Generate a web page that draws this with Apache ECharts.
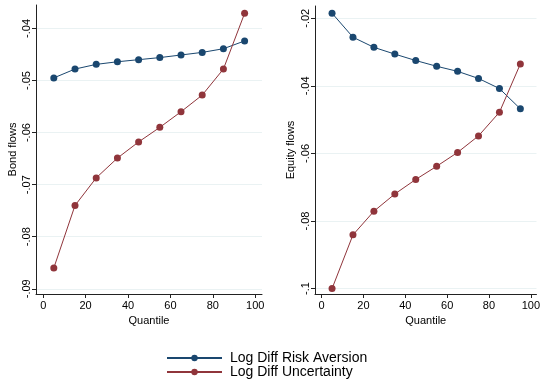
<!DOCTYPE html>
<html lang="en">
<head>
    <meta charset="UTF-8">
    <title>quantile-flows</title>
    <script src="https://cdn.jsdelivr.net/npm/echarts@6.0.0/dist/echarts.min.js"></script>
</head>
<body style="margin:0;background:#fff;">
<div id="main" style="width: 543px;height:385px;"></div>
<script>
    // quantiles on the x axis
    var quantiles = [5, 15, 25, 35, 45, 55, 65, 75, 85, 95];
    // bond flows panel
    var bondRisk = [-0.0495, -0.0478, -0.0469, -0.0464, -0.0460, -0.0456, -0.0451, -0.0446, -0.0439, -0.0424];
    var bondUnc = [-0.0860, -0.0740, -0.0687, -0.0649, -0.0618, -0.0590, -0.0560, -0.0528, -0.0478, -0.0371];
    // equity flows panel
    var eqRisk = [-0.0185, -0.0256, -0.0286, -0.0306, -0.0325, -0.0342, -0.0357, -0.0378, -0.0408, -0.0468];
    var eqUnc = [-0.1000, -0.0841, -0.0771, -0.0720, -0.0677, -0.0638, -0.0597, -0.0548, -0.0478, -0.0335];
    // tick labels
    var xTicks = [0, 20, 40, 60, 80, 100];
    var bondTicks = [-0.09, -0.08, -0.07, -0.06, -0.05, -0.04];
    var eqTicks = [-0.1, -0.08, -0.06, -0.04, -0.02];
    var names = ['Log Diff Risk Aversion', 'Log Diff Uncertainty'];

    var blue = '#1a476f';
    var red = '#90353b';
    var font = 'Liberation Sans, Arial, sans-serif';

    function pair(ys) {
        var out = [];
        for (var i = 0; i < quantiles.length; i++) out.push([quantiles[i], ys[i]]);
        return out;
    }
    function fmt(v) {
        return String(+(+v).toFixed(2)).replace('0.', '.');
    }
    function xAxis(idx, min, max) {
        return {
            type: 'value', gridIndex: idx, min: min, max: max,
            name: 'Quantile', nameLocation: 'middle', nameGap: 19,
            nameTextStyle: {color: '#000', fontSize: 11, fontFamily: font},
            axisLine: {show: true, onZero: false, lineStyle: {color: '#222', width: 1}},
            axisTick: {show: true, length: 4, customValues: xTicks, lineStyle: {color: '#222'}},
            axisLabel: {customValues: xTicks, color: '#000', fontSize: 11, fontFamily: font, margin: 6},
            splitLine: {show: false}
        };
    }
    function yAxis(idx, min, max, ticks, name, gap) {
        return {
            type: 'value', gridIndex: idx, min: min, max: max,
            name: name, nameLocation: 'middle', nameGap: gap,
            nameTextStyle: {color: '#000', fontSize: 11, fontFamily: font},
            axisLine: {show: true, onZero: false, lineStyle: {color: '#222', width: 1}},
            axisTick: {show: true, length: 4, customValues: ticks, lineStyle: {color: '#222'}},
            axisLabel: {customValues: ticks, rotate: 90, color: '#000', fontSize: 11, fontFamily: font, margin: 4, formatter: fmt},
            splitLine: {show: true, lineStyle: {color: '#eaf2f3', width: 1}}
        };
    }
    function line(name, data, color, idx) {
        return {
            name: name, type: 'line', xAxisIndex: idx, yAxisIndex: idx,
            data: pair(data), symbol: 'circle', symbolSize: 7,
            lineStyle: {color: color, width: 1}, itemStyle: {color: color},
            animation: false
        };
    }

    var chart = echarts.init(document.getElementById('main'));
    var option = {
        backgroundColor: '#fff',
        animation: false,
        grid: [
            {left: 36, top: 5, width: 226, height: 289},
            {left: 315, top: 6, width: 225, height: 288}
        ],
        xAxis: [xAxis(0, -3.4, 103.2), xAxis(1, -3.15, 102.7)],
        yAxis: [
            yAxis(0, -0.091, -0.0355, bondTicks, 'Bond flows', 18),
            yAxis(1, -0.1016, -0.01636, eqTicks, 'Equity flows', 19)
        ],
        legend: {
            data: names, orient: 'vertical', left: 166, top: 351,
            itemWidth: 55, itemHeight: 8, itemGap: 0, padding: 0,
            textStyle: {color: '#000', fontSize: 14, fontFamily: font, padding: [0, 0, 0, 3]}
        },
        series: [
            line(names[0], bondRisk, blue, 0),
            line(names[1], bondUnc, red, 0),
            line(names[0], eqRisk, blue, 1),
            line(names[1], eqUnc, red, 1)
        ]
    };
    chart.setOption(option);
</script>
</body>
</html>
